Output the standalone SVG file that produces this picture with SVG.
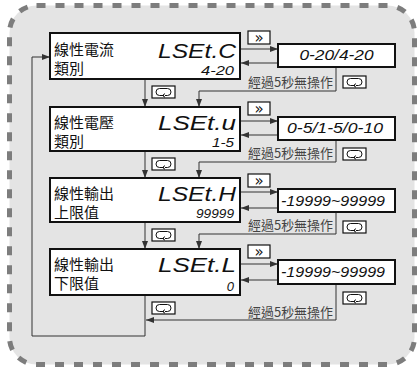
<svg xmlns="http://www.w3.org/2000/svg" width="419" height="369" viewBox="0 0 419 369">
<style>
.bg{fill:#e4e4e4;stroke:#7d7d7d;stroke-width:5;stroke-dasharray:9 10}
.node{fill:#fff;stroke:#111;stroke-width:2}
.vbox{fill:#fff;stroke:#111;stroke-width:2}
.ibox{fill:#fff;stroke:#111;stroke-width:1.2}
.cn{fill:none;stroke:#333;stroke-width:1}
.zh{font-family:"Noto Sans CJK TC","Noto Sans CJK SC",sans-serif;font-size:15px;fill:#111}
.big{font-family:"Liberation Sans",sans-serif;font-style:italic;font-size:21px;fill:#111}
.sm{font-family:"Liberation Sans",sans-serif;font-style:italic;font-size:13px;fill:#111}
.val{font-family:"Liberation Sans",sans-serif;font-style:italic;font-size:15px;fill:#111}
.lbl{font-family:"Noto Sans CJK TC","Noto Sans CJK SC",sans-serif;font-size:13px;fill:#444}
.ff{font-family:"DejaVu Sans",sans-serif;font-size:15px;fill:#111}
</style>
<defs>
<marker id="ah" viewBox="0 0 8 6" refX="8" refY="3" markerWidth="8" markerHeight="6" markerUnits="userSpaceOnUse" orient="auto">
<path d="M0,0 L8,3 L0,6 z" fill="#333"/>
</marker>
<g id="ret">
<rect class="ibox" x="0" y="0" width="23" height="12"/>
<path d="M12,9.5 H7.5 A3.5,3.5 0 0 1 7.5,2.5 H15.5 A3.5,3.5 0 0 1 15.5,9.5 H13" fill="none" stroke="#111" stroke-width="1"/>
<path d="M10.5,9.5 L13,7.6 M10.5,9.5 L13,11.2" fill="none" stroke="#111" stroke-width="1"/>
</g>
<g id="ff">
<rect class="ibox" x="0" y="0" width="22" height="13"/>
<text class="ff" x="11" y="11.5" text-anchor="middle">»</text>
</g>
</defs>
<rect class="bg" x="9.5" y="5.5" width="405" height="359" rx="27"/>

<g id="connectors">
<path class="cn" d="M241,49 H278" marker-end="url(#ah)"/>
<path class="cn" d="M278,63 H241" marker-end="url(#ah)"/>
<path class="cn" d="M336,67 V91 H199 V107" marker-end="url(#ah)"/>
<path class="cn" d="M145,80 V107" marker-end="url(#ah)"/>

<path class="cn" d="M241,121 H278" marker-end="url(#ah)"/>
<path class="cn" d="M278,135 H241" marker-end="url(#ah)"/>
<path class="cn" d="M336,140 V162 H199 V178" marker-end="url(#ah)"/>
<path class="cn" d="M145,151 V178" marker-end="url(#ah)"/>

<path class="cn" d="M241,192 H278" marker-end="url(#ah)"/>
<path class="cn" d="M278,208 H241" marker-end="url(#ah)"/>
<path class="cn" d="M336,212 V234 H199 V249" marker-end="url(#ah)"/>
<path class="cn" d="M145,222 V249" marker-end="url(#ah)"/>

<path class="cn" d="M241,264 H278" marker-end="url(#ah)"/>
<path class="cn" d="M278,280 H241" marker-end="url(#ah)"/>
<path class="cn" d="M336,284 V320 H146" marker-end="url(#ah)"/>
<path class="cn" d="M145,295 V336 H32 V57 H50" marker-end="url(#ah)"/>
</g>

<g id="node1">
<rect class="node" x="50" y="33" width="190" height="46"/>
<text class="zh" x="54" y="55">線性電流</text>
<text class="zh" x="54" y="74">類別</text>
<text class="big" x="236" y="58" text-anchor="end" textLength="78" lengthAdjust="spacingAndGlyphs">LSEt.C</text>
<text class="sm" x="234" y="75" text-anchor="end" textLength="33" lengthAdjust="spacingAndGlyphs">4-20</text>
</g>
<g id="node2">
<rect class="node" x="50" y="107" width="190" height="44"/>
<text class="zh" x="54" y="128">線性電壓</text>
<text class="zh" x="54" y="147">類別</text>
<text class="big" x="236" y="130" text-anchor="end" textLength="78" lengthAdjust="spacingAndGlyphs">LSEt.u</text>
<text class="sm" x="234" y="147" text-anchor="end" textLength="22" lengthAdjust="spacingAndGlyphs">1-5</text>
</g>
<g id="node3">
<rect class="node" x="50" y="178" width="190" height="44"/>
<text class="zh" x="54" y="199">線性輸出</text>
<text class="zh" x="54" y="218">上限值</text>
<text class="big" x="236" y="201" text-anchor="end" textLength="78" lengthAdjust="spacingAndGlyphs">LSEt.H</text>
<text class="sm" x="234" y="218" text-anchor="end" textLength="38" lengthAdjust="spacingAndGlyphs">99999</text>
</g>
<g id="node4">
<rect class="node" x="50" y="249" width="190" height="46"/>
<text class="zh" x="54" y="270">線性輸出</text>
<text class="zh" x="54" y="289">下限值</text>
<text class="big" x="236" y="272" text-anchor="end" textLength="78" lengthAdjust="spacingAndGlyphs">LSEt.L</text>
<text class="sm" x="234" y="291" text-anchor="end">0</text>
</g>

<g id="value1">
<rect class="vbox" x="278" y="44" width="117" height="23"/>
<text class="val" x="336.5" y="60" text-anchor="middle" textLength="74" lengthAdjust="spacingAndGlyphs">0-20/4-20</text>
</g>
<g id="value2">
<rect class="vbox" x="278" y="117" width="117" height="23"/>
<text class="val" x="335" y="133" text-anchor="middle" textLength="96" lengthAdjust="spacingAndGlyphs">0-5/1-5/0-10</text>
</g>
<g id="value3">
<rect class="vbox" x="278" y="189" width="117" height="23"/>
<text class="val" x="333" y="206" text-anchor="middle" textLength="104" lengthAdjust="spacingAndGlyphs">-19999~99999</text>
</g>
<g id="value4">
<rect class="vbox" x="278" y="260" width="117" height="24"/>
<text class="val" x="333" y="277" text-anchor="middle" textLength="104" lengthAdjust="spacingAndGlyphs">-19999~99999</text>
</g>

<g id="labels">
<text class="lbl" x="333" y="87" text-anchor="end" textLength="85" lengthAdjust="spacingAndGlyphs">經過5秒無操作</text>
<text class="lbl" x="333" y="158" text-anchor="end" textLength="85" lengthAdjust="spacingAndGlyphs">經過5秒無操作</text>
<text class="lbl" x="333" y="230" text-anchor="end" textLength="85" lengthAdjust="spacingAndGlyphs">經過5秒無操作</text>
<text class="lbl" x="333" y="317" text-anchor="end" textLength="85" lengthAdjust="spacingAndGlyphs">經過5秒無操作</text>
</g>

<g id="icons">
<use href="#ff" x="248" y="31"/>
<use href="#ff" x="248" y="102"/>
<use href="#ff" x="248" y="174"/>
<use href="#ff" x="248" y="245"/>
<use href="#ret" x="343" y="76"/>
<use href="#ret" x="343" y="148"/>
<use href="#ret" x="343" y="221"/>
<use href="#ret" x="343" y="292"/>
<use href="#ret" x="152" y="86"/>
<use href="#ret" x="152" y="158"/>
<use href="#ret" x="152" y="229"/>
<use href="#ret" x="152" y="302"/>
</g>
</svg>
